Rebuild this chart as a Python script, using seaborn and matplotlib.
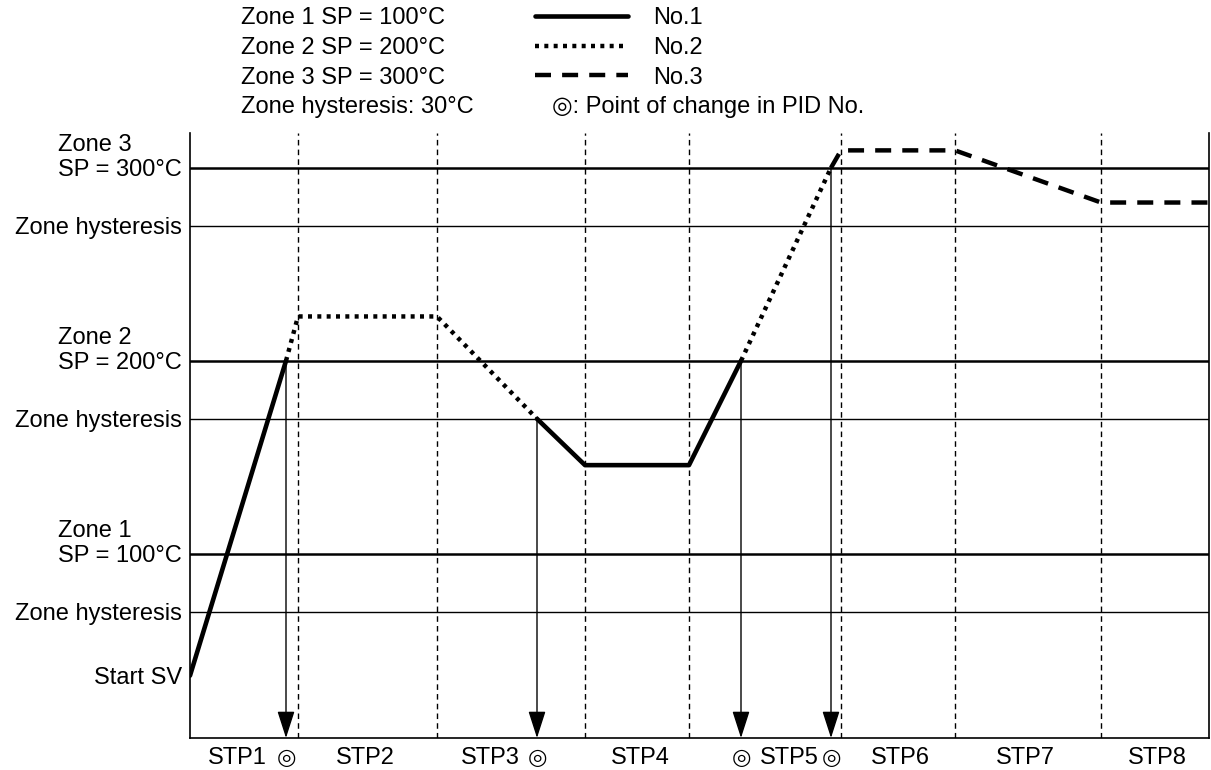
import numpy as np
import pandas as pd
import matplotlib
matplotlib.use("Agg")
import matplotlib.pyplot as plt
from matplotlib.lines import Line2D
import seaborn as sns

# ---------------- data ----------------
time_pts = [0, 96, 108, 247, 347, 395, 499, 551, 641, 651, 765, 911, 1019]
temp_pts = [37, 200, 223, 223, 170, 146, 146, 200, 300, 309, 309, 282, 282]
segment_pid = [1, 2, 2, 2, 1, 1, 1, 2, 3, 3, 3, 3]          # PID No. of each segment
step_edges = [108, 247, 395, 499, 651, 765, 911]
step_labels = ["STP1", "STP2", "STP3", "STP4", "STP5", "STP6", "STP7", "STP8"]
step_label_x = [47, 175, 300, 450, 599, 710, 835, 967]
pid_change_times = [96, 347, 551, 641]
zone_sp = [100, 200, 300]
zone_hyst = 30
start_sv = 37
pid_names = ["No.1", "No.2", "No.3"]

# ---------------- style ----------------
sns.set_theme(style="white")
plt.rcParams["font.family"] = ["Liberation Sans", "DejaVu Sans"]
FS = 17
W, H = 1211, 770

def fx(px):
    return px / W

def fy(py):
    return 1 - py / H

pid_style = {
    1: dict(linestyle="-", lw=3.3),
    2: dict(linestyle=(0, (0.9, 1.2)), lw=3.2),
    3: dict(linestyle=(0, (3.6, 2.5)), lw=3.2),
}

fig = plt.figure(figsize=(W / 100, H / 100), dpi=100)
ax = fig.add_axes([fx(190), fy(738), fx(1209) - fx(190), fy(133) - fy(738)])
ax.set_xlim(0, 1019)
ax.set_ylim(4.7, 318)
ax.set_xticks([])
ax.set_yticks([])
ax.set_xlabel("")
ax.set_ylabel("")
for s in ["left", "bottom", "right"]:
    ax.spines[s].set_visible(True)
    ax.spines[s].set_color("black")
    ax.spines[s].set_linewidth(1.2)
ax.spines["top"].set_visible(False)

# step boundaries
for x in step_edges:
    ax.axvline(x, color="black", lw=1.0, linestyle=(0, (4, 3)), zorder=1)

# zone lines
for sp in zone_sp:
    ax.axhline(sp, color="black", lw=1.8, zorder=2)
    ax.axhline(sp - zone_hyst, color="black", lw=1.0, zorder=2)

# profile, grouped by PID No.
runs = []
start = 0
for i in range(1, len(segment_pid) + 1):
    if i == len(segment_pid) or segment_pid[i] != segment_pid[start]:
        runs.append((start, i, segment_pid[start]))
        start = i
for s, e, pid in runs:
    df = pd.DataFrame({"t": time_pts[s:e + 1], "T": temp_pts[s:e + 1]})
    sns.lineplot(data=df, x="t", y="T", ax=ax, estimator=None, sort=False,
                 color="black", zorder=4)
    ln = ax.lines[-1]
    ln.set_linestyle(pid_style[pid]["linestyle"])
    ln.set_linewidth(pid_style[pid]["lw"])
    ln.set_dash_capstyle("butt")
ax.set_xlabel("")
ax.set_ylabel("")

# arrows at PID change points
ymin = ax.get_ylim()[0]
for t in pid_change_times:
    T = float(np.interp(t, time_pts, temp_pts))
    ax.annotate("", xy=(t, ymin), xytext=(t, T),
                arrowprops=dict(arrowstyle="-|>,head_length=1.4,head_width=0.45",
                                mutation_scale=12, lw=1.0, color="black",
                                shrinkA=0, shrinkB=0), zorder=5)

# y labels
ylab_kw = dict(xycoords=("axes fraction", "data"), textcoords="offset points",
               ha="right", va="bottom", fontsize=FS, multialignment="left",
               linespacing=1.2, color="black")
for i, sp in enumerate(zone_sp):
    ax.annotate(f"Zone {i + 1}\nSP = {sp}°C", xy=(0, sp), xytext=(-6, -9.7), **ylab_kw)
    ax.annotate("Zone hysteresis", xy=(0, sp - zone_hyst), xytext=(-6, -9.7), **ylab_kw)
ax.annotate("Start SV", xy=(0, start_sv), xytext=(-6, -9.7), **ylab_kw)

# x labels
for lab, x in zip(step_labels, step_label_x):
    ax.annotate(lab, xy=(x, 0), xycoords=("data", "axes fraction"),
                xytext=(0, -18.5), textcoords="offset points",
                ha="center", va="baseline", fontsize=FS, color="black")
for t in pid_change_times:
    ax.annotate("◎", xy=(t, 0), xycoords=("data", "axes fraction"),
                xytext=(0, -18.5), textcoords="offset points",
                ha="center", va="baseline", fontsize=FS - 1, color="black")

# legend block at top
row_y = [16, 46, 75, 104]
for i, sp in enumerate(zone_sp):
    fig.text(fx(241), fy(row_y[i] + 8.5), f"Zone {i + 1} SP = {sp}°C",
             fontsize=FS, va="baseline", ha="left", color="black")
    fig.add_artist(Line2D([fx(535), fx(628)], [fy(row_y[i]), fy(row_y[i])],
                          transform=fig.transFigure, color="black",
                          linestyle=pid_style[i + 1]["linestyle"],
                          lw=pid_style[i + 1]["lw"], dash_capstyle="butt"))
    fig.text(fx(653), fy(row_y[i] + 8.5), pid_names[i],
             fontsize=FS, va="baseline", ha="left", color="black")
fig.text(fx(241), fy(row_y[3] + 8.5), f"Zone hysteresis: {zone_hyst}°C",
         fontsize=FS, va="baseline", ha="left", color="black")
fig.text(fx(552), fy(row_y[3] + 8.5), "◎: Point of change in PID No.",
         fontsize=FS, va="baseline", ha="left", color="black")

fig.savefig("out.png", dpi=100, facecolor="white")
